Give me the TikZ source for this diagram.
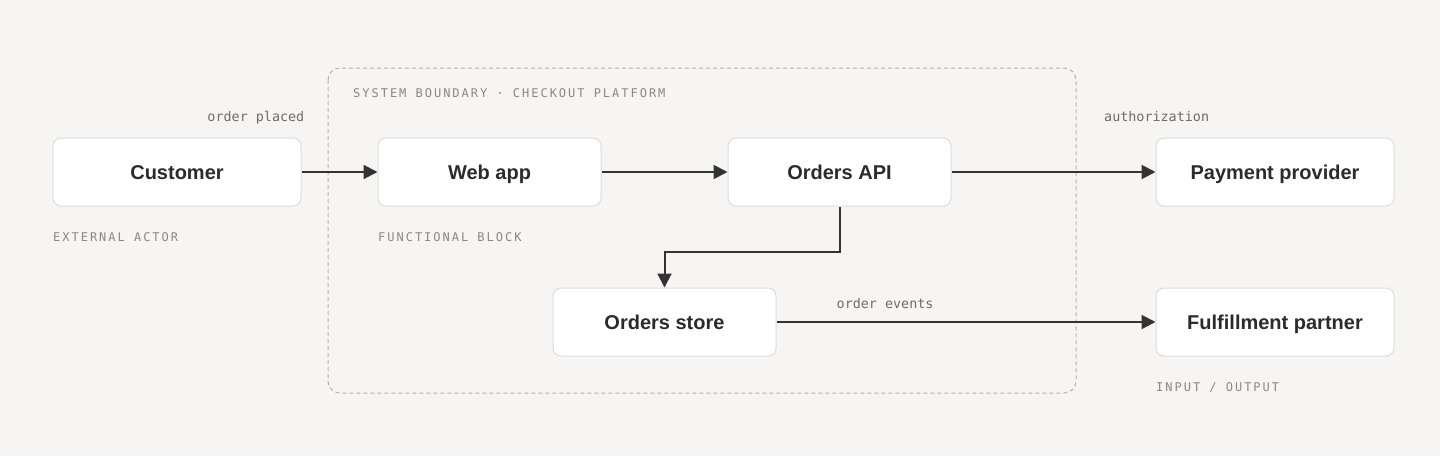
\documentclass[tikz,border=0pt]{standalone}
\usepackage{fontspec}
\setmainfont{Liberation Sans}
\newfontfamily\monof{DejaVu Sans Mono}
\newfontfamily\monocaps[LetterSpace=16.5]{DejaVu Sans Mono}
\usetikzlibrary{arrows.meta}
\definecolor{bg}{HTML}{F6F5F3}
\definecolor{boxline}{HTML}{DEDCD8}
\definecolor{ink}{HTML}{2B2B2B}
\definecolor{lbl}{HTML}{8A8885}
\definecolor{flowtxt}{HTML}{6E6C69}
\definecolor{edge}{HTML}{333333}
\definecolor{dash}{HTML}{B4B2AE}
\tikzset{
  block/.style={draw=boxline, line width=1pt, fill=white, rounded corners=8pt,
    minimum width=#1, minimum height=68pt, inner sep=0pt,
    text height=14.3pt, text depth=0pt,
    font=\fontsize{20pt}{22pt}\selectfont\bfseries, text=ink},
  tag/.style={font=\monocaps\fontsize{12pt}{14pt}\selectfont, text=lbl, inner sep=0pt, anchor=base west},
  flowlbl/.style={font=\monof\fontsize{13.4pt}{15pt}\selectfont, text=flowtxt, inner sep=0pt},
  flow/.style={draw=edge, line width=2pt, -{Triangle[length=14pt,width=14pt]}},
  boundary/.style={draw=dash, line width=1pt, dash pattern=on 4pt off 3pt, rounded corners=12pt}
}
\begin{document}
\begin{tikzpicture}[x=1pt,y=-1pt]
\useasboundingbox[fill=bg] (0,0) rectangle (1440,456);
\draw[boundary] (328,68) rectangle (1076,393);
\node[tag] (sb) at (353,97.5) {SYSTEM BOUNDARY · CHECKOUT PLATFORM};

\node[block=248pt] (cust) at (177,172) {Customer};
\node[block=223pt] (web) at (489.5,172) {Web app};
\node[block=223pt] (api) at (839.5,172) {Orders API};
\node[block=238pt] (pay) at (1275,172) {Payment provider};
\node[block=223pt] (store) at (664.5,322) {Orders store};
\node[block=238pt] (ful) at (1275,322) {Fulfillment partner};

\node[tag] (t1) at (53,241.5) {EXTERNAL ACTOR};
\node[tag] (t2) at (378,241.5) {FUNCTIONAL BLOCK};
\node[tag] (t3) at (1156,391.5) {INPUT / OUTPUT};

\draw[flow] (cust) -- (web);
\draw[flow] (web) -- (api);
\draw[flow] (api) -- (pay);
\draw[flow] (api.south) |- (664.5,252) -- (store.north);
\draw[flow] (store) -- (ful);

\node[flowlbl, anchor=base east] (l1) at (304.5,121) {order placed};
\node[flowlbl, anchor=base west] (l2) at (1104,121) {authorization};
\node[flowlbl, anchor=base west] (l3) at (836.5,308) {order events};
\end{tikzpicture}
\end{document}
